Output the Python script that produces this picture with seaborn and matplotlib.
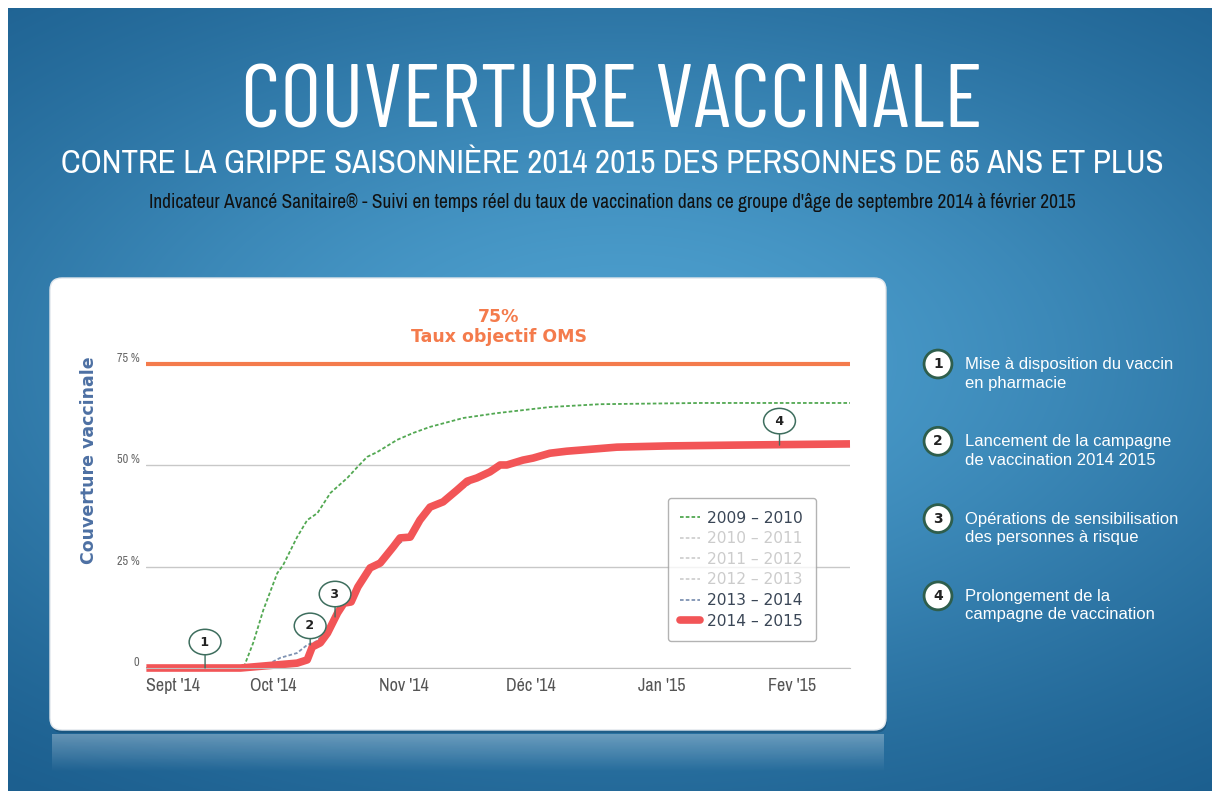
import numpy as np
import pandas as pd
import matplotlib
matplotlib.use("Agg")
import matplotlib.pyplot as plt
import seaborn as sns
from matplotlib.patches import FancyBboxPatch
from matplotlib.lines import Line2D
from matplotlib.colors import LinearSegmentedColormap

# donnees : jours depuis le 1er sept 2014, couverture en %
jours_0910 = [0, 23.0, 25.3, 27.7, 31.0, 32.4, 35.7, 38.1, 40.5, 43.6, 47.6, 50.0, 52.3,
              54.7, 59.4, 63.2, 67.2, 75.1, 83.1, 95.6, 107.5, 131.2, 166.7]
couv_0910 = [0, 0, 6.2, 14.3, 23.4, 25.4, 32.3, 36.5, 38.2, 43.2, 46.9, 49.6, 52.1,
             53.3, 56.3, 58.0, 59.5, 61.7, 62.9, 64.4, 65.1, 65.4, 65.4]

jours_1314 = [0, 28.0, 31.7, 35.7, 38.1, 40.0, 42.9, 45.3, 48.5, 53.0, 58.5, 62.5, 67.2,
              70.3, 73.6, 78.3, 83.8, 91.6, 99.6, 123.4, 166.7]
couv_1314 = [0, 0.5, 2.5, 3.7, 5.7, 6.4, 8.9, 13.8, 16.6, 24.5, 29.6, 32.8, 39.9,
             40.6, 43.5, 46.6, 49.8, 51.6, 53.3, 54.6, 55.0]

jours_1415 = [0, 22.3, 35.7, 38.1, 39.3, 41.2, 42.9, 45.3, 46.8, 48.5, 50.1, 53.0, 55.4,
              58.5, 60.1, 62.5, 64.8, 67.2, 70.3, 73.6, 76.0, 78.3, 81.4, 83.8, 85.4,
              89.2, 91.6, 95.6, 99.6, 111.5, 123.4, 139.1, 166.7]
couv_1415 = [0, 0, 1.2, 2.0, 5.2, 6.2, 8.6, 13.6, 16.0, 16.3, 20.0, 24.7, 25.9,
             29.9, 32.1, 32.3, 36.5, 39.7, 41.0, 43.9, 46.1, 46.9, 48.4, 50.1, 50.1,
             51.3, 51.8, 53.0, 53.5, 54.5, 54.8, 55.0, 55.3]

saisons = ['2009 – 2010', '2010 – 2011', '2011 – 2012', '2012 – 2013', '2013 – 2014', '2014 – 2015']
saison_visible = [True, False, False, False, True, True]

mois_jours = [0, 30, 61, 91, 122, 153]
mois_labels = ["Sept '14", "Oct '14", "Nov '14", "Déc '14", "Jan '15", "Fev '15"]
y_ticks = [0, 25, 50, 75]
y_labels = ['0', '25 %', '50 %', '75 %']
objectif = 75

flag_num = ['1', '2', '3', '4']
flag_jour = [13.9, 38.8, 44.7, 150.0]
flag_val = [0, 5.7, 12.6, 55.0]

notes = ["Mise à disposition du vaccin\nen pharmacie",
         "Lancement de la campagne\nde vaccination 2014 2015",
         "Opérations de sensibilisation\ndes personnes à risque",
         "Prolongement de la\ncampagne de vaccination"]

sns.set_style("white")
COND = 'Archivo Narrow'
TITRE = 'Barlow Condensed'
plt.rcParams['font.family'] = ['DejaVu Sans']

W, H = 1212, 791
fig = plt.figure(figsize=(12.12, 7.91), dpi=100)
fig.patch.set_facecolor('white')

# fond bleu
bg = fig.add_axes([0, 0, 1, 1])
bg.set_xlim(0, W)
bg.set_ylim(H, 0)
bg.axis('off')
yy, xx = np.mgrid[8:H, 8:W]
g = np.exp(-((xx - 620) / 760.0) ** 2 - ((yy - 360) / 400.0) ** 2)
cmap_bg = LinearSegmentedColormap.from_list('bg', ['#1c5f8f', '#4c9ecd'])
bg.imshow(g, cmap=cmap_bg, extent=(8, W, H, 8), aspect='auto', zorder=0)

# reflet sous le panneau
refl = np.zeros((40, 2, 4))
refl[..., :3] = 1.0
refl[..., 3] = np.linspace(0.3, 0.0, 40)[:, None]
bg.imshow(refl, extent=(52, 884, 772, 734), aspect='auto', zorder=1)

# ombre + panneau blanc
bg.add_patch(FancyBboxPatch((51, 281), 836, 452, boxstyle='round,pad=0,rounding_size=12',
                            fc='#0e3a5a', ec='none', alpha=0.35, zorder=2))
bg.add_patch(FancyBboxPatch((50, 278), 836, 452, boxstyle='round,pad=0,rounding_size=12',
                            fc='white', ec='#e0e6ec', lw=1, zorder=2))

# titres
bg.text(612, 104, 'COUVERTURE VACCINALE', family=TITRE, fontsize=64, color='white',
        ha='center', va='center', zorder=3)
bg.text(612, 164, 'CONTRE LA GRIPPE SAISONNIÈRE 2014 2015 DES PERSONNES DE 65 ANS ET PLUS',
        family=COND, fontsize=23.8, color='white', ha='center', va='center', zorder=3)
bg.text(612, 203, "Indicateur Avancé Sanitaire® - Suivi en temps réel du taux de vaccination "
        "dans ce groupe d'âge de septembre 2014 à février 2015",
        family=COND, fontsize=14, color='#111111', ha='center', va='center', zorder=3)

# notes a droite
for i, (n, t) in enumerate(zip(flag_num, notes)):
    yc = 364 + i * 77.3
    bg.text(938, yc, n, fontsize=10, fontweight='bold', color='#222222', ha='center', va='center',
            bbox=dict(boxstyle='circle,pad=0.5', fc='white', ec='#2e5e4c', lw=2), zorder=3)
    bg.text(965, yc - 7, t, family='Liberation Sans', fontsize=12, color='white',
            ha='left', va='top', linespacing=1.3, zorder=3)

# graphique
x0, x1 = 146.4, 850
ax = fig.add_axes([x0 / W, 1 - 668 / H, (x1 - x0) / W, 310 / H])
ax.set_facecolor('none')
ax.set_zorder(4)

sns.lineplot(x=jours_0910, y=couv_0910, ax=ax, color='#52a852', lw=1.3,
             linestyle=(0, (2, 1.2)), legend=False)
sns.lineplot(x=jours_1314, y=couv_1314, ax=ax, color='#7f93b3', lw=1.3,
             linestyle=(0, (2, 1.2)), legend=False)
sns.lineplot(x=jours_1415, y=couv_1415, ax=ax, color='#f25557', lw=5.5,
             legend=False, clip_on=False, solid_capstyle='butt')

ax.set_xlim(0, 166.7)
ax.set_ylim(0, 76.5)
ax.grid(axis='y', color='#c8c8c8', lw=1)
ax.axhline(objectif, color='#f47b4c', lw=3, zorder=1)
ax.set_yticks(y_ticks)
ax.set_yticklabels(y_labels, fontsize=8.8, color='#666666', family=COND)
for lab in ax.get_yticklabels():
    lab.set_va('bottom')
ax.set_xticks(mois_jours)
ax.set_xticklabels(mois_labels, fontsize=13, color='#555555', family=COND)
ax.get_xticklabels()[0].set_ha('left')
ax.tick_params(length=0, axis='both')
ax.tick_params(axis='x', pad=7)
ax.tick_params(axis='y', pad=5)
for s in ['top', 'right', 'left']:
    ax.spines[s].set_visible(False)
ax.spines['bottom'].set_color('#c0c0c0')
ax.set_xlabel('')
ax.set_ylabel('Couverture vaccinale', fontsize=12.5, fontweight='bold', color='#4d70a3')
ax.yaxis.set_label_coords(-0.069, 0.67)

ax.text(0.501, 1.10, '75%\nTaux objectif OMS', transform=ax.transAxes, ha='center', va='center',
        fontsize=12.5, fontweight='bold', color='#f47b4c', linespacing=1.1)

# reperes numerotes
offs = [18.7, 13.7, 16.5, 17.3]
for n, xj, yv, o in zip(flag_num, flag_jour, flag_val, offs):
    ax.annotate(f' {n} ', xy=(xj, yv), xytext=(0, o), textcoords='offset points',
                ha='center', va='center', fontsize=9, fontweight='bold', color='#222222',
                bbox=dict(boxstyle='ellipse,pad=0.2', fc='white', ec='#3e6e5e', lw=1.1),
                arrowprops=dict(arrowstyle='-', color='#3e6e5e', lw=1, shrinkA=0, shrinkB=0),
                zorder=6)

# legende
styles = {'2009 – 2010': ('#52a852', 1.3, (0, (2, 1.2))),
          '2013 – 2014': ('#7f93b3', 1.3, (0, (2, 1.2))),
          '2014 – 2015': ('#f25557', 5.5, '-')}
handles = []
for s, vis in zip(saisons, saison_visible):
    if vis:
        c, lw, ls = styles[s]
    else:
        c, lw, ls = '#d0d0d0', 1.3, (0, (2, 1.2))
    handles.append(Line2D([], [], color=c, lw=lw, linestyle=ls))
leg = ax.legend(handles, saisons, loc='upper left', bbox_to_anchor=(0.741, 0.548),
                fontsize=11.2, frameon=True, handlelength=1.3, handletextpad=0.45,
                labelspacing=0.36, borderpad=0.8, borderaxespad=0, fancybox=True)
leg.get_frame().set_edgecolor('#a0a0a0')
leg.get_frame().set_linewidth(1)
for t, vis in zip(leg.get_texts(), saison_visible):
    t.set_color('#3a4656' if vis else '#cccccc')

fig.savefig('out.png', dpi=100)
